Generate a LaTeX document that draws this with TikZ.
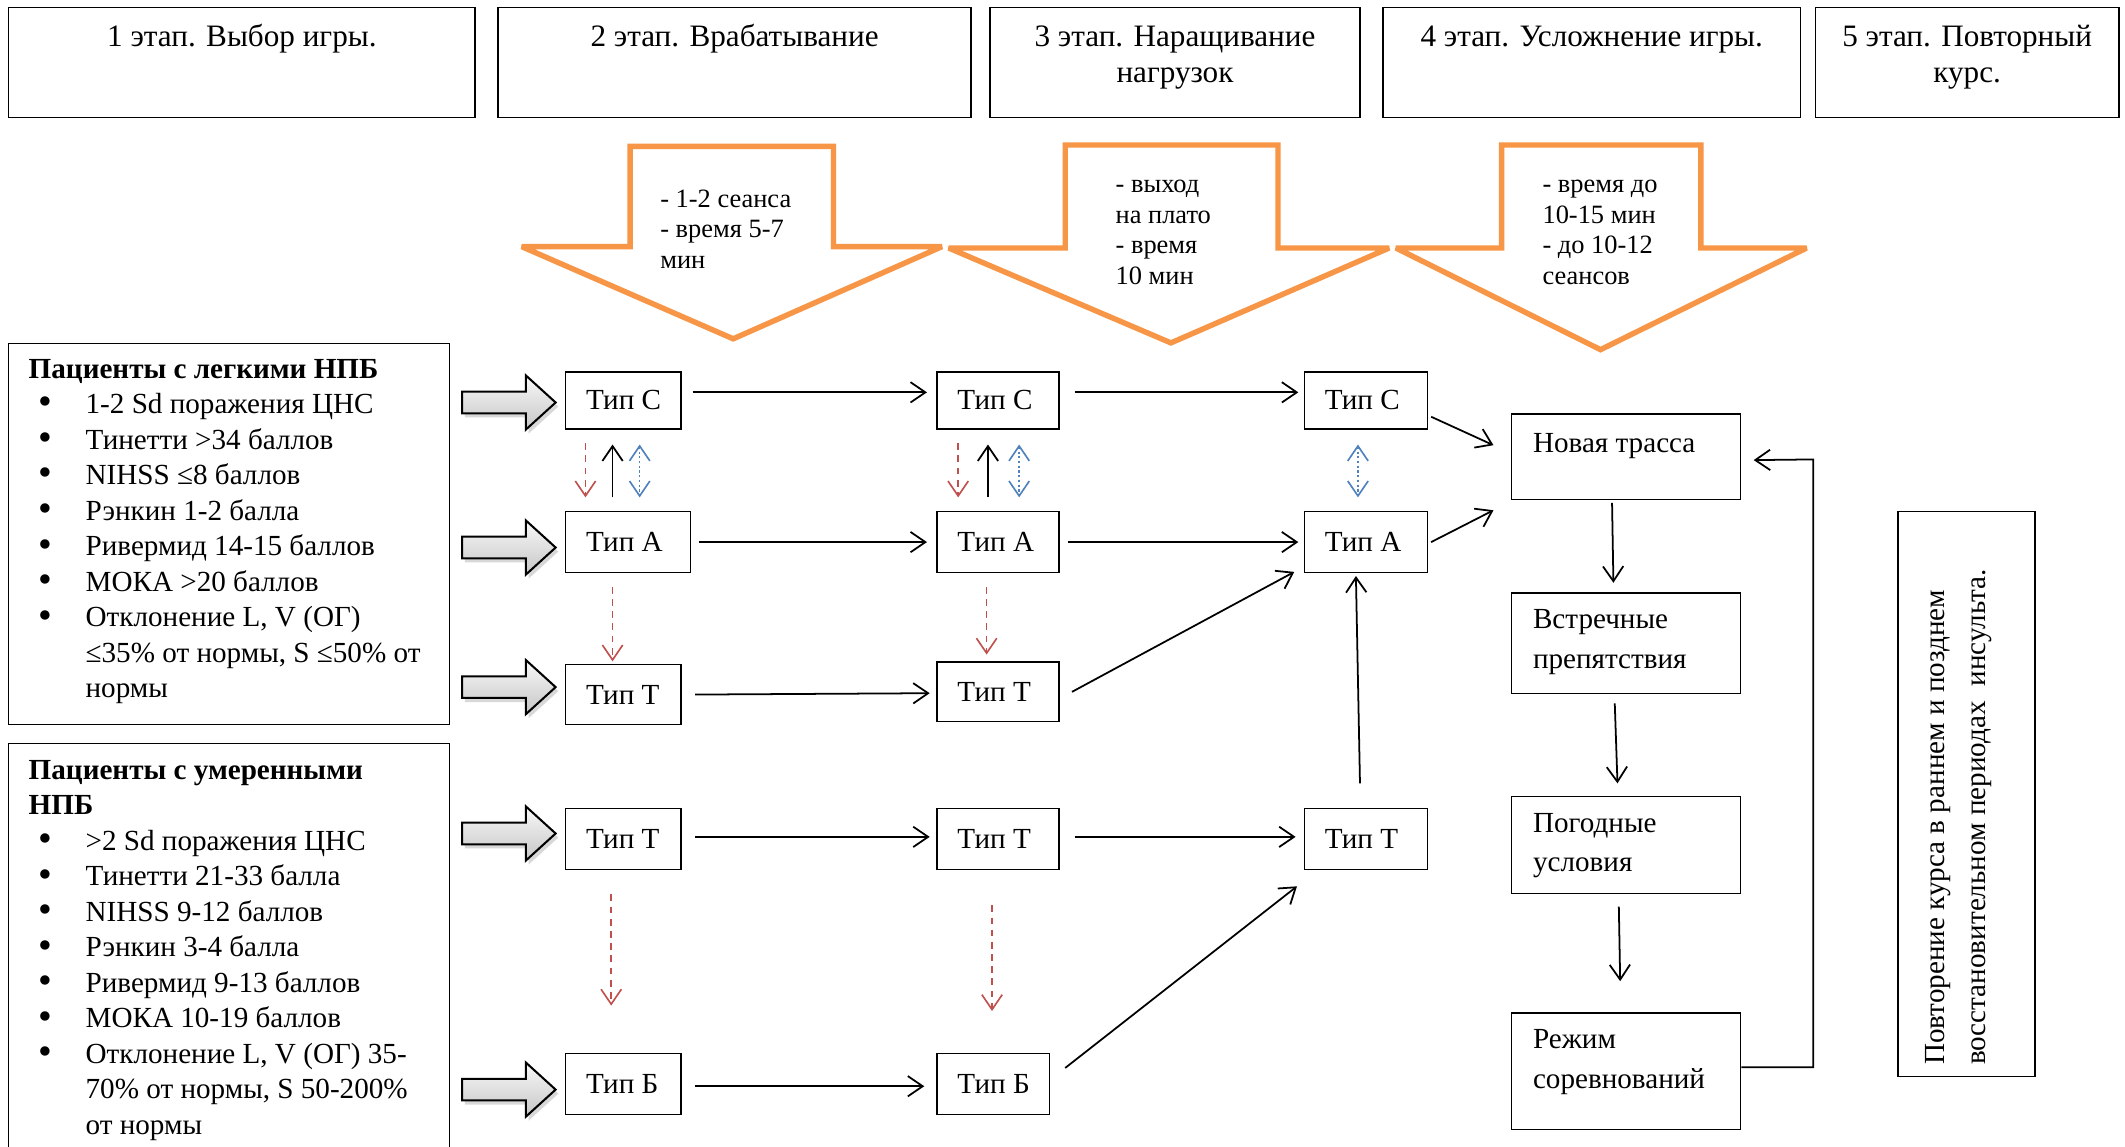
\documentclass[tikz,border=0pt]{standalone}
\usepackage{fontspec}
\setmainfont{Liberation Serif}
\usetikzlibrary{arrows.meta,shadows,calc}
\definecolor{orng}{HTML}{F79646}
\definecolor{rd}{HTML}{C0504D}
\definecolor{bl}{HTML}{4F81BD}
\newcommand\fb{\fontsize{21.5}{26.2}\selectfont}
\newcommand\fh{\fontsize{23}{27}\selectfont}
\newcommand\fo{\fontsize{19.5}{22.6}\selectfont}
\newcommand\fr{\fontsize{21.5}{29}\selectfont}
\newcommand\frot{\fontsize{21.5}{30}\selectfont}
\newcommand\mylines[2][l]{\begin{tabular}[t]{@{}#1@{}}#2\end{tabular}}
\newcommand\bul{\makebox[42pt][l]{\hspace*{7pt}\raisebox{-1pt}{\scalebox{1.35}{\textbullet}}}}
\newcommand\tbox[6]{\node[typebox, minimum height=#5pt] (#1) at (#2,#3) {\makebox[\dimexpr#4pt-30pt\relax][l]{#6}};}
\begin{document}
\begin{tikzpicture}[x=1pt,y=-1pt,
  box/.style={draw, line width=1pt, anchor=north west, inner sep=0pt},
  typebox/.style={draw, line width=1pt, anchor=north west, inner xsep=15pt, inner ysep=0pt, font=\fb},
  arr/.style={line width=1.3pt, -{Straight Barb[length=11pt,width=15pt]}},
  rdash/.style={draw=rd, line width=1.2pt, dash pattern=on 5pt off 4pt, -{Straight Barb[length=11pt,width=15pt]}},
  bdot/.style={draw=bl, line width=1.2pt, dash pattern=on 1.5pt off 2pt, {Straight Barb[length=11pt,width=15pt]}-{Straight Barb[length=11pt,width=15pt]}},
  oarrow/.style={draw=orng, line width=4pt, fill=white, line join=miter, miter limit=4},
  garrow/.style={draw=black, line width=1.5pt, line join=miter, top color=gray!5, bottom color=gray!45, drop shadow={shadow xshift=2pt, shadow yshift=-3pt, opacity=0.3}},
  txt/.style={anchor=base west, inner sep=0pt}
]
\useasboundingbox (0,0) rectangle (1568,846);
\clip (0,0) rectangle (1568,846);
\fill[white] (0,0) rectangle (1568,846);

% header boxes
\node[box, minimum width=344pt, minimum height=81pt] (h1) at (6,5) {};
\node[box, minimum width=349pt, minimum height=81pt] (h2) at (367,5) {};
\node[box, minimum width=273pt, minimum height=81pt] (h3) at (730,5) {};
\node[box, minimum width=308pt, minimum height=81pt] (h4) at (1020,5) {};
\node[box, minimum width=224pt, minimum height=81pt] (h5) at (1339,5) {};
\node[anchor=base, inner sep=0pt, font=\fh] (h1t) at ($(h1.north)+(0,29)$) {\mylines[c]{1 этап. Выбор игры.}};
\node[anchor=base, inner sep=0pt, font=\fh] (h2t) at ($(h2.north)+(0,29)$) {\mylines[c]{2 этап. Врабатывание}};
\node[anchor=base, inner sep=0pt, font=\fh] (h3t) at ($(h3.north)+(0,29)$) {\mylines[c]{3 этап. Наращивание\\нагрузок}};
\node[anchor=base, inner sep=0pt, font=\fh] (h4t) at ($(h4.north)+(0,29)$) {\mylines[c]{4 этап. Усложнение игры.}};
\node[anchor=base, inner sep=0pt, font=\fh] (h5t) at ($(h5.north)+(0,29)$) {\mylines[c]{5 этап. Повторный\\курс.}};

% orange arrows
\draw[oarrow] (465,108) -- (615,108) -- (615,182) -- (695,182) -- (541,250) -- (385,182) -- (465,182) -- cycle;
\draw[oarrow] (786,107) -- (943,107) -- (943,183) -- (1025,183) -- (864,253) -- (700,183) -- (786,183) -- cycle;
\draw[oarrow] (1108,107) -- (1255,107) -- (1255,183) -- (1333,183) -- (1181,258) -- (1030,183) -- (1108,183) -- cycle;
\node[txt, font=\fo] (o1t) at (487,153) {\mylines{- 1-2 сеанса\\- время 5-7\\мин}};
\node[txt, font=\fo] (o2t) at (823,142) {\mylines{- выход\\на плато\\- время\\10 мин}};
\node[txt, font=\fo] (o3t) at (1138,142) {\mylines{- время до\\10-15 мин\\- до 10-12\\сеансов}};

% patient boxes
\node[box, minimum width=325pt, minimum height=281pt] (mild) at (6,253) {};
\node[txt, font=\fb] (mildt) at (21,279) {\begin{tabular}[t]{@{}l@{}l@{}}
\multicolumn{2}{@{}l@{}}{\textbf{Пациенты с легкими НПБ}}\\
\bul & 1-2 Sd поражения ЦНС\\
\bul & Тинетти >34 баллов\\
\bul & NIHSS ≤8 баллов\\
\bul & Рэнкин 1-2 балла\\
\bul & Ривермид 14-15 баллов\\
\bul & МОКА >20 баллов\\
\bul & Отклонение L, V (ОГ)\\
 & ≤35\% от нормы, S ≤50\% от\\
 & нормы
\end{tabular}};
\node[box, minimum width=325pt, minimum height=330pt] (mod) at (6,548) {};
\node[txt, font=\fb] (modt) at (21,575) {\begin{tabular}[t]{@{}l@{}l@{}}
\multicolumn{2}{@{}l@{}}{\textbf{Пациенты с умеренными}}\\
\multicolumn{2}{@{}l@{}}{\textbf{НПБ}}\\
\bul & >2 Sd поражения ЦНС\\
\bul & Тинетти 21-33 балла\\
\bul & NIHSS 9-12 баллов\\
\bul & Рэнкин 3-4 балла\\
\bul & Ривермид 9-13 баллов\\
\bul & МОКА 10-19 баллов\\
\bul & Отклонение L, V (ОГ) 35-\\
 & 70\% от нормы, S 50-200\%\\
 & от нормы
\end{tabular}};

% gray block arrows
\foreach \cy in {297,404,507,615,804}{
  \draw[garrow] (341,\cy-8) -- (388,\cy-8) -- (388,\cy-20) -- (410,\cy) -- (388,\cy+20) -- (388,\cy+8) -- (341,\cy+8) -- cycle;
}

% type boxes
\tbox{c1}{417}{274}{85}{42}{Тип С}
\tbox{a1}{417}{377}{92}{45}{Тип А}
\tbox{t1}{417}{490}{85}{44}{Тип Т}
\tbox{t1b}{417}{596}{85}{45}{Тип Т}
\tbox{b1}{417}{777}{85}{45}{Тип Б}
\tbox{c2}{691}{274}{90}{42}{Тип С}
\tbox{a2}{691}{377}{90}{45}{Тип А}
\tbox{t2}{691}{488}{90}{44}{Тип Т}
\tbox{t2b}{691}{596}{90}{45}{Тип Т}
\tbox{b2}{691}{777}{83}{45}{Тип Б}
\tbox{c3}{962}{274}{91}{42}{Тип С}
\tbox{a3}{962}{377}{91}{45}{Тип А}
\tbox{t3}{962}{596}{91}{45}{Тип Т}

% right column
\node[box, minimum width=169pt, minimum height=63pt] (nt) at (1115,305) {};
\node[box, minimum width=169pt, minimum height=74pt] (vp) at (1115,437) {};
\node[box, minimum width=169pt, minimum height=72pt] (pu) at (1115,587) {};
\node[box, minimum width=169pt, minimum height=86pt] (rs) at (1115,747) {};
\node[txt, font=\fr] (ntt) at ($(nt.north west)+(16,29)$) {\mylines{Новая трасса}};
\node[txt, font=\fr] (vpt) at ($(vp.north west)+(16,27)$) {\mylines{Встречные\\препятствия}};
\node[txt, font=\fr] (put) at ($(pu.north west)+(16,27)$) {\mylines{Погодные\\условия}};
\node[txt, font=\fr] (rst) at ($(rs.north west)+(16,27)$) {\mylines{Режим\\соревнований}};

% rotated box
\node[box, minimum width=101pt, minimum height=417pt] (rep) at (1400,377) {};
\node[anchor=base west, inner sep=0pt, rotate=90, font=\frot] (rept) at (1435,786) {\mylines{Повторение курса в раннем и позднем\\восстановительном периодах\ \ инсульта.}};

% vertical arrows C <-> A
\draw[rdash] ([xshift=15pt,yshift=-10pt]c1.south west) -- ([xshift=15pt,yshift=10pt]a1.north west);
\draw[arr] ([xshift=35pt,yshift=10pt]a1.north west) -- ([xshift=35pt,yshift=-11pt]c1.south west);
\draw[bdot] ([xshift=55pt,yshift=-11pt]c1.south west) -- ([xshift=55pt,yshift=10pt]a1.north west);
\draw[rdash] ([xshift=16pt,yshift=-10pt]c2.south west) -- ([xshift=16pt,yshift=10pt]a2.north west);
\draw[arr] ([xshift=38pt,yshift=10pt]a2.north west) -- ([xshift=38pt,yshift=-11pt]c2.south west);
\draw[bdot] ([xshift=61pt,yshift=-11pt]c2.south west) -- ([xshift=61pt,yshift=10pt]a2.north west);
\draw[bdot] ([xshift=40pt,yshift=-11pt]c3.south west) -- ([xshift=40pt,yshift=10pt]a3.north west);
% red A -> T, T -> B
\draw[rdash] ([xshift=35pt,yshift=-10pt]a1.south west) -- ([xshift=35pt,yshift=2pt]t1.north west);
\draw[rdash] ([xshift=37pt,yshift=-10pt]a2.south west) -- ([xshift=37pt,yshift=5pt]t2.north west);
\draw[rdash] ([xshift=34pt,yshift=-18pt]t1b.south west) -- ([xshift=34pt,yshift=35pt]b1.north west);
\draw[rdash] ([xshift=41pt,yshift=-26pt]t2b.south west) -- ([xshift=41pt,yshift=31pt]b2.north west);

% horizontal arrows
\draw[arr] ([xshift=8pt,yshift=6pt]c1.east) -- ([xshift=-7pt,yshift=6pt]c2.west);
\draw[arr] ([xshift=11pt,yshift=6pt]c2.east) -- ([xshift=-4pt,yshift=6pt]c3.west);
\draw[arr] ([xshift=6pt]a1.east) -- ([xshift=-7pt]a2.west);
\draw[arr] ([xshift=6pt]a2.east) -- ([xshift=-4pt]a3.west);
\draw[arr] ([xshift=10pt]t1.east) -- ([xshift=-5pt,yshift=-1pt]t2.west);
\draw[arr] ([xshift=10pt,yshift=1.5pt]t1b.east) -- ([xshift=-5pt,yshift=1.5pt]t2b.west);
\draw[arr] ([xshift=11pt,yshift=1.5pt]t2b.east) -- ([xshift=-6pt,yshift=1.5pt]t3.west);
\draw[arr] ([xshift=10pt,yshift=-1.5pt]b1.east) -- ([xshift=-9pt,yshift=-1.5pt]b2.west);
% diagonals
\draw[arr] ([xshift=9pt]t2.east) -- ([xshift=-7pt,yshift=1pt]a3.south west);
\draw[arr] ([xshift=11pt,yshift=12pt]b2.east) -- ([xshift=-5pt,yshift=-12pt]t3.south west);
\draw[arr] ([xshift=-4.5pt,yshift=18pt]t3.north) -- ([xshift=-7.5pt,yshift=-2pt]a3.south);
\draw[arr] ([xshift=2pt,yshift=-12pt]c3.east) -- ([xshift=-13pt,yshift=8.5pt]nt.west);
\draw[arr] ([xshift=2pt]a3.east) -- ([xshift=-13pt,yshift=-39.5pt]nt.west);

% right column arrows
\draw[arr] ([xshift=-10.5pt,yshift=-2pt]nt.south) -- ([xshift=-9.5pt,yshift=7pt]vp.north);
\draw[arr] ([xshift=-8.5pt,yshift=-7pt]vp.south) -- ([xshift=-6.5pt,yshift=9pt]pu.north);
\draw[arr] ([xshift=-5.5pt,yshift=-9pt]pu.south) -- ([xshift=-4.5pt,yshift=23pt]rs.north);
\coordinate (fb) at (1338,339);
\draw[arr] ([yshift=3pt]rs.east) -| (fb) -- ([xshift=9pt,yshift=-2.5pt]nt.east);
\end{tikzpicture}
\end{document}
